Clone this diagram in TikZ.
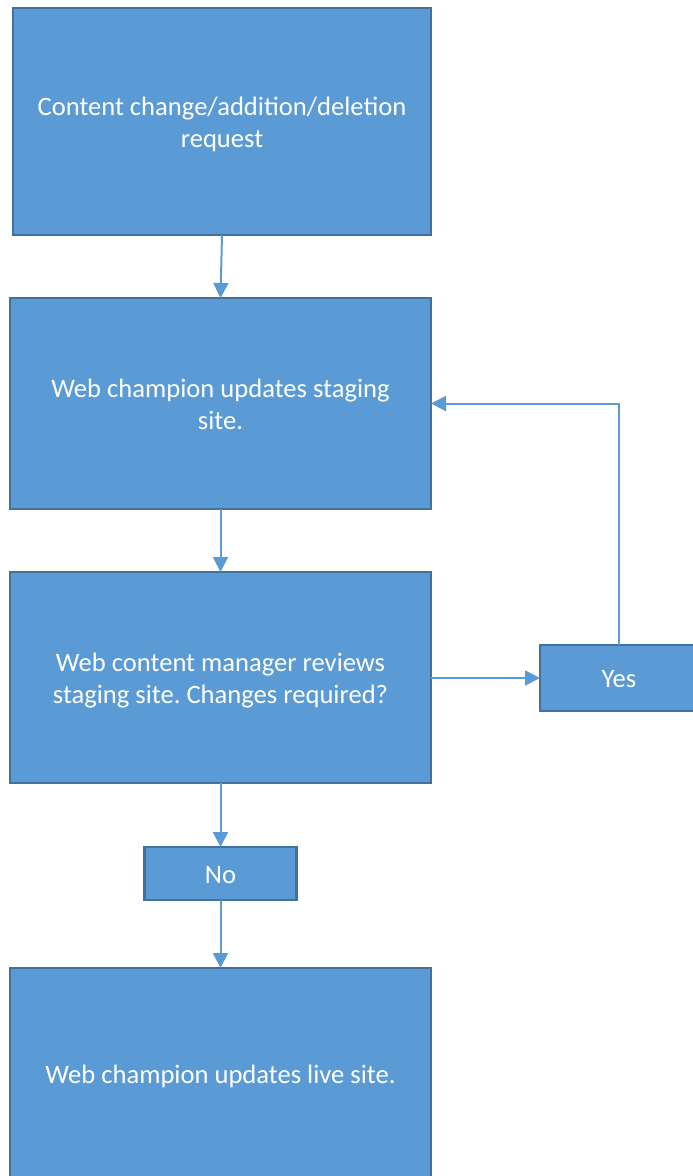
\documentclass[tikz,border=0pt]{standalone}
\usepackage{fontspec}
\setmainfont{Carlito}
\usetikzlibrary{arrows.meta}
\definecolor{boxfill}{HTML}{5B9BD5}
\definecolor{boxline}{HTML}{41719C}
\definecolor{arrowc}{HTML}{5B9BD5}
\frenchspacing
\newcommand\lowtext[1]{\raisebox{-3.5pt}[\height][\depth]{\begin{tabular}{@{}c@{}}#1\end{tabular}}}
\begin{document}
\begin{tikzpicture}[x=1pt,y=-1pt,
  flowbox/.style={draw=boxline,line width=2.2pt,fill=boxfill,text=white,
    inner sep=0pt,outer sep=0pt,align=center,
    font=\fontsize{26.6}{32}\selectfont},
  conn/.style={draw=arrowc,line width=2pt,-{Triangle[length=15pt,width=15pt]}}]
\useasboundingbox (0,0) rectangle (693,1176);
\begin{scope}
\clip (0,0) rectangle (693,1176);
\node[flowbox,minimum width=418pt,minimum height=227pt] (req) at (222,121.5)
  {\lowtext{Content change/addition/deletion\\request}};
\node[flowbox,minimum width=421pt,minimum height=211pt] (stage) at (220.5,403.5)
  {\lowtext{Web champion updates staging\\site.}};
\node[flowbox,minimum width=421pt,minimum height=211pt] (review) at (220.5,677.5)
  {\lowtext{Web content manager reviews\\staging site. Changes required?}};
\node[flowbox,minimum width=158pt,minimum height=66pt] (yes) at (619,678) {\lowtext{Yes}};
\node[flowbox,minimum width=152pt,minimum height=53pt] (no) at (220.5,873.5) {\lowtext{No}};
\node[flowbox,minimum width=421pt,minimum height=211pt] (live) at (220.5,1073.5)
  {\lowtext{Web champion updates live site.}};
\draw[conn] (req.south) -- (stage.north);
\draw[conn] (stage.south) -- (review.north);
\draw[conn] (review.east |- yes.west) -- (yes.west);
\draw[conn] (yes.north) |- (stage.east);
\draw[conn] (review.south) -- (no.north);
\draw[conn] (no.south) -- (live.north);
\end{scope}
\end{tikzpicture}
\end{document}
